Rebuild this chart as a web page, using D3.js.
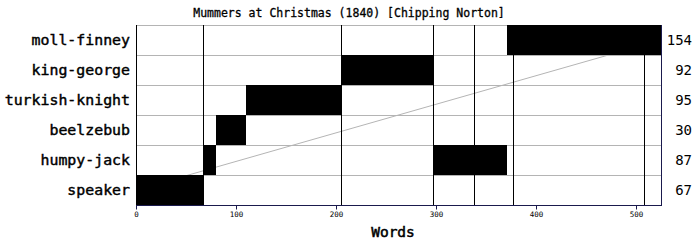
<!DOCTYPE html>
<html><head><meta charset="utf-8">
<script src="https://cdn.jsdelivr.net/npm/d3@7"></script>
<style>body{margin:0;background:#fff}svg{display:block}</style>
</head><body>
<svg id="c" width="698" height="245"></svg>
<script>
const title = "Mummers at Christmas (1840) [Chipping Norton]";
const characters = ["moll-finney","king-george","turkish-knight","beelzebub","humpy-jack","speaker"];
const totals = [154, 92, 95, 30, 87, 67];
const segChar = ["speaker","humpy-jack","beelzebub","turkish-knight","king-george","humpy-jack","moll-finney"];
const segStart = [0, 67, 80, 110, 205, 297, 371];
const segEnd = [67, 80, 110, 205, 297, 371, 525];
const sceneBreaks = [67, 205, 297, 338, 377, 508];
const xTicks = [0,100,200,300,400,500];
const xMax = 525;

const svg = d3.select("#c");
const L=136, R=661, T=25, B=205;
const x = d3.scaleLinear().domain([0,xMax]).range([L,R]);
const y = d3.scaleBand().domain(characters).range([T,B]);
const mono = "'DejaVu Sans Mono', monospace";

svg.append("g").selectAll("line").data(characters).join("line")
  .attr("x1",L).attr("x2",R)
  .attr("y1",d=>y(d)+0.5).attr("y2",d=>y(d)+0.5)
  .attr("stroke","#b4b4b4").attr("stroke-width",1);

svg.append("line")
  .attr("x1",x(0)).attr("y1",y("speaker")+y.bandwidth()/2)
  .attr("x2",x(xMax)).attr("y2",y("moll-finney")+y.bandwidth()/2)
  .attr("stroke","#b4b4b4").attr("stroke-width",1);

svg.append("g").selectAll("line").data(sceneBreaks).join("line")
  .attr("x1",d=>Math.round(x(d))+0.5).attr("x2",d=>Math.round(x(d))+0.5)
  .attr("y1",T).attr("y2",B)
  .attr("stroke","#000").attr("stroke-width",1);

svg.append("g").selectAll("rect").data(segChar.map((c,i)=>({c,s:segStart[i],e:segEnd[i]}))).join("rect")
  .attr("x",d=>x(d.s)).attr("width",d=>x(d.e)-x(d.s))
  .attr("y",d=>y(d.c)).attr("height",y.bandwidth())
  .attr("fill","#000");

svg.append("line").attr("x1",L+0.5).attr("x2",L+0.5).attr("y1",T).attr("y2",B)
  .attr("stroke","#000");
svg.append("line").attr("x1",R+0.5).attr("x2",R+0.5).attr("y1",T).attr("y2",B+0.5)
  .attr("stroke","#1a1a4d");

const ax = svg.append("g").attr("transform",`translate(0,${B+0.5})`)
  .call(d3.axisBottom(x).tickValues(xTicks).tickSize(4).tickSizeOuter(0));
ax.select(".domain").attr("stroke","#1a1a4d").attr("d",`M${L},0H${R+1}`);
ax.selectAll(".tick line").attr("stroke","#1a1a4d");
ax.selectAll(".tick text").attr("font-family",mono).attr("font-size","7.5px").attr("fill","#000").attr("dy","0.6em");

svg.append("g").selectAll("text").data(characters).join("text")
  .attr("x",130).attr("y",d=>y(d)+y.bandwidth()/2)
  .attr("dy","0.35em").attr("text-anchor","end")
  .attr("font-family",mono).attr("font-size","13.5px")
  .attr("textLength",d=>d.length*8.95).attr("lengthAdjust","spacingAndGlyphs")
  .attr("stroke","#000").attr("stroke-width",0.4)
  .text(d=>d);

svg.append("g").selectAll("text").data(characters).join("text")
  .attr("x",692).attr("y",d=>y(d)+y.bandwidth()/2)
  .attr("dy","0.35em").attr("text-anchor","end")
  .attr("font-family",mono).attr("font-size","14px")
  .text((d,i)=>totals[i]);

svg.append("text").attr("x",349).attr("y",17).attr("text-anchor","middle")
  .attr("font-family",mono).attr("font-size","11.5px")
  .attr("stroke","#000").attr("stroke-width",0.3)
  .text(title);

svg.append("text").attr("x",393).attr("y",237).attr("text-anchor","middle")
  .attr("font-family",mono).attr("font-size","14.5px")
  .attr("stroke","#000").attr("stroke-width",0.5)
  .text("Words");
</script>
</body></html>
